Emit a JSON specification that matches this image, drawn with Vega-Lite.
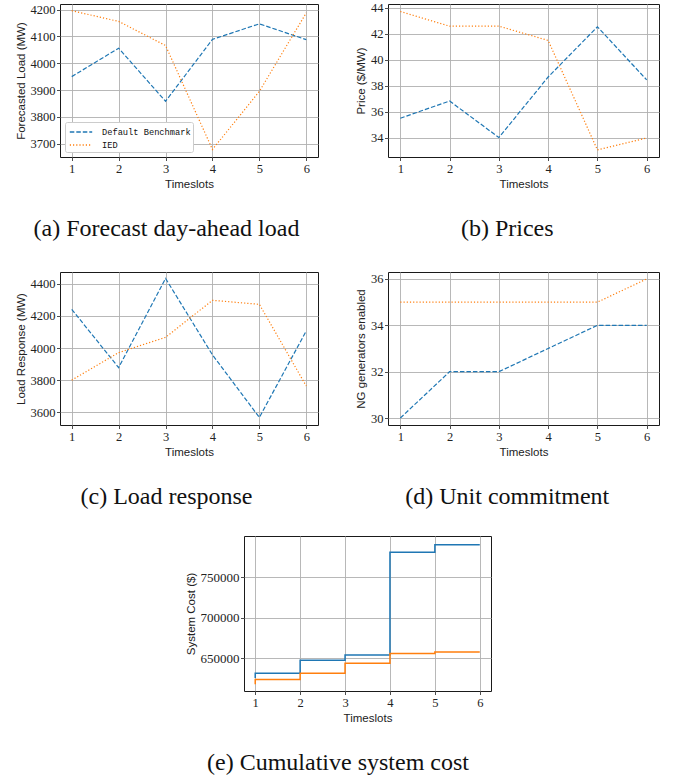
{
  "$schema": "https://vega.github.io/schema/vega-lite/v6.json",
  "padding": {"left": 14, "top": 1, "right": 5, "bottom": 0},
  "datasets": {
    "series": [
      {"t": 1, "series": "Default Benchmark", "load": 3950, "price": 35.49, "response": 4241, "ng": 30, "cost": 625500},
      {"t": 2, "series": "Default Benchmark", "load": 4056, "price": 36.82, "response": 3879, "ng": 32, "cost": 631500},
      {"t": 3, "series": "Default Benchmark", "load": 3858, "price": 34.0, "response": 4433, "ng": 32, "cost": 647500},
      {"t": 4, "series": "Default Benchmark", "load": 4089, "price": 38.67, "response": 3958, "ng": 33, "cost": 654100},
      {"t": 5, "series": "Default Benchmark", "load": 4147, "price": 42.54, "response": 3569, "ng": 34, "cost": 780900},
      {"t": 6, "series": "Default Benchmark", "load": 4088, "price": 38.45, "response": 4107, "ng": 34, "cost": 790200},
      {"t": 1, "series": "IED", "load": 4196, "price": 43.72, "response": 3801, "ng": 35, "cost": 618000},
      {"t": 2, "series": "IED", "load": 4156, "price": 42.59, "response": 3972, "ng": 35, "cost": 623700},
      {"t": 3, "series": "IED", "load": 4066, "price": 42.59, "response": 4067, "ng": 35, "cost": 631500},
      {"t": 4, "series": "IED", "load": 3678, "price": 41.49, "response": 4297, "ng": 35, "cost": 643800},
      {"t": 5, "series": "IED", "load": 3895, "price": 33.05, "response": 4272, "ng": 35, "cost": 655800},
      {"t": 6, "series": "IED", "load": 4188, "price": 33.97, "response": 3764, "ng": 36, "cost": 657800}
    ]
  },
  "data": {"name": "series"},
  "bounds": "full",
  "spacing": 25,
  "resolve": {"scale": {"color": "independent", "strokeDash": "independent"}},
  "vconcat": [
    {
      "bounds": "flush",
      "columns": 2,
      "spacing": {"row": 115, "column": 70},
      "resolve": {"scale": {"color": "independent", "strokeDash": "independent"}},
      "concat": [
        {
          "width": 258, "height": 153,
          "title": {"text": "(a) Forecast day-ahead load"},
          "mark": {"type": "line", "strokeWidth": 1.2},
          "encoding": {
            "x": {"field": "t", "type": "quantitative", "scale": {"domain": [0.75, 6.25], "nice": false, "zero": false}, "axis": {"values": [1, 2, 3, 4, 5, 6], "format": "d", "title": "Timeslots"}},
            "y": {"field": "load", "type": "quantitative", "scale": {"domain": [3650, 4221], "nice": false, "zero": false}, "axis": {"values": [3700, 3800, 3900, 4000, 4100, 4200], "format": "d", "title": "Forecasted Load (MW)"}},
            "color": {"field": "series", "type": "nominal", "scale": {"domain": ["Default Benchmark", "IED"], "range": ["#1f77b4", "#ff7f0e"]},
              "legend": {"orient": "bottom-left", "offset": 5, "title": null, "labelFont": "Liberation Mono", "labelFontSize": 8.7, "labelColor": "#111", "symbolType": "M-1.6,0H1.6", "symbolSize": 196, "symbolStrokeWidth": 1.3, "symbolOffset": 6, "fillColor": "white", "strokeColor": "#cccccc", "cornerRadius": 2, "padding": 2, "rowPadding": 0, "labelOffset": 13}},
            "strokeDash": {"field": "series", "type": "nominal", "scale": {"domain": ["Default Benchmark", "IED"], "range": [[4.5, 2], [1.2, 2]]},
              "legend": {"orient": "bottom-left", "offset": 5, "title": null, "labelFont": "Liberation Mono", "labelFontSize": 8.7, "labelColor": "#111", "symbolType": "M-1.6,0H1.6", "symbolSize": 196, "symbolStrokeWidth": 1.3, "symbolOffset": 6, "fillColor": "white", "strokeColor": "#cccccc", "cornerRadius": 2, "padding": 2, "rowPadding": 0, "labelOffset": 13}}
          }
        },
        {
          "width": 271, "height": 153,
          "title": {"text": "(b) Prices"},
          "mark": {"type": "line", "strokeWidth": 1.2},
          "encoding": {
            "x": {"field": "t", "type": "quantitative", "scale": {"domain": [0.75, 6.25], "nice": false, "zero": false}, "axis": {"values": [1, 2, 3, 4, 5, 6], "format": "d", "title": "Timeslots"}},
            "y": {"field": "price", "type": "quantitative", "scale": {"domain": [32.5, 44.3], "nice": false, "zero": false}, "axis": {"values": [34, 36, 38, 40, 42, 44], "format": "d", "title": "Price ($/MW)"}},
            "color": {"field": "series", "type": "nominal", "scale": {"domain": ["Default Benchmark", "IED"], "range": ["#1f77b4", "#ff7f0e"]}, "legend": null},
            "strokeDash": {"field": "series", "type": "nominal", "scale": {"domain": ["Default Benchmark", "IED"], "range": [[4.5, 2], [1.2, 2]]}, "legend": null}
          }
        },
        {
          "width": 258, "height": 153,
          "title": {"text": "(c) Load response"},
          "mark": {"type": "line", "strokeWidth": 1.2},
          "encoding": {
            "x": {"field": "t", "type": "quantitative", "scale": {"domain": [0.75, 6.25], "nice": false, "zero": false}, "axis": {"values": [1, 2, 3, 4, 5, 6], "format": "d", "title": "Timeslots"}},
            "y": {"field": "response", "type": "quantitative", "scale": {"domain": [3522, 4473], "nice": false, "zero": false}, "axis": {"values": [3600, 3800, 4000, 4200, 4400], "format": "d", "title": "Load Response (MW)"}},
            "color": {"field": "series", "type": "nominal", "scale": {"domain": ["Default Benchmark", "IED"], "range": ["#1f77b4", "#ff7f0e"]}, "legend": null},
            "strokeDash": {"field": "series", "type": "nominal", "scale": {"domain": ["Default Benchmark", "IED"], "range": [[4.5, 2], [1.2, 2]]}, "legend": null}
          }
        },
        {
          "width": 271, "height": 153,
          "title": {"text": "(d) Unit commitment"},
          "mark": {"type": "line", "strokeWidth": 1.2},
          "encoding": {
            "x": {"field": "t", "type": "quantitative", "scale": {"domain": [0.75, 6.25], "nice": false, "zero": false}, "axis": {"values": [1, 2, 3, 4, 5, 6], "format": "d", "title": "Timeslots"}},
            "y": {"field": "ng", "type": "quantitative", "scale": {"domain": [29.7, 36.3], "nice": false, "zero": false}, "axis": {"values": [30, 32, 34, 36], "format": "d", "title": "NG generators enabled"}},
            "color": {"field": "series", "type": "nominal", "scale": {"domain": ["Default Benchmark", "IED"], "range": ["#1f77b4", "#ff7f0e"]}, "legend": null},
            "strokeDash": {"field": "series", "type": "nominal", "scale": {"domain": ["Default Benchmark", "IED"], "range": [[4.5, 2], [1.2, 2]]}, "legend": null}
          }
        }
      ]
    },
    {
      "bounds": "flush",
      "spacing": 0,
      "hconcat": [
        {
          "width": 184, "height": 155,
          "data": {"values": []},
          "view": {"stroke": null},
          "mark": {"type": "point"}
        },
        {
          "width": 247, "height": 155,
          "title": {"text": "(e) Cumulative system cost"},
          "mark": {"type": "line", "strokeWidth": 1.5, "interpolate": "step-before"},
          "encoding": {
            "x": {"field": "t", "type": "quantitative", "scale": {"domain": [0.75, 6.25], "nice": false, "zero": false}, "axis": {"values": [1, 2, 3, 4, 5, 6], "format": "d", "title": "Timeslots"}},
            "y": {"field": "cost", "type": "quantitative", "scale": {"domain": [609600, 801000], "nice": false, "zero": false}, "axis": {"values": [650000, 700000, 750000], "format": "d", "title": "System Cost ($)", "labelFontSize": 13}},
            "color": {"field": "series", "type": "nominal", "scale": {"domain": ["Default Benchmark", "IED"], "range": ["#1f77b4", "#ff7f0e"]}, "legend": null}
          }
        }
      ]
    }
  ],
  "config": {
    "view": {"stroke": "#1a1a1a", "strokeWidth": 1},
    "axis": {"domain": false, "grid": true, "gridColor": "#b0b0b0", "gridWidth": 0.9, "tickColor": "#222222", "tickSize": 3.5, "tickWidth": 0.8, "labelFont": "Liberation Serif", "labelFontSize": 12.5, "labelColor": "#222222", "titleFont": "Liberation Sans", "titleFontSize": 11.5, "titleFontWeight": "normal", "titleColor": "#222222", "labelPadding": 1.5, "titlePadding": 4},
    "title": {"font": "Liberation Serif", "fontSize": 24, "fontWeight": "normal", "color": "#111111", "orient": "bottom", "anchor": "middle", "frame": "bounds", "offset": 27}
  }
}
